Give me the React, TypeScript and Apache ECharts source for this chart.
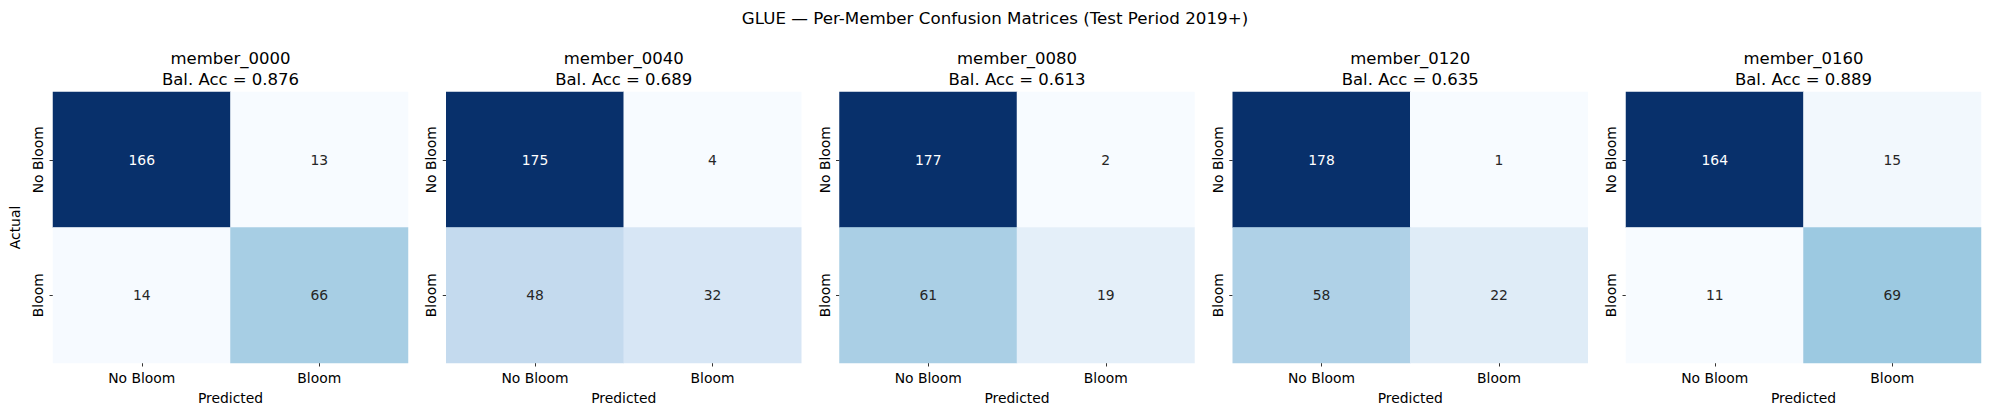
import React, { useEffect, useRef } from "react";
import * as echarts from "echarts";

const suptitle = "GLUE — Per-Member Confusion Matrices (Test Period 2019+)";
const members = ["member_0000", "member_0040", "member_0080", "member_0120", "member_0160"];
const balAcc = [0.876, 0.689, 0.613, 0.635, 0.889];
const classLabels = ["No Bloom", "Bloom"];
// confusion matrix cells: [actual][predicted]
const trueNeg = [166, 175, 177, 178, 164];
const falsePos = [13, 4, 2, 1, 15];
const falseNeg = [14, 48, 61, 58, 11];
const truePos = [66, 32, 19, 22, 69];

const blues = [
  "#f7fbff", "#deebf7", "#c6dbef", "#9ecae1", "#6baed6",
  "#4292c6", "#2171b5", "#08519c", "#08306b",
];

const FONT = "DejaVu Sans";

export default function App() {
  const ref = useRef<HTMLDivElement>(null);
  useEffect(() => {
    if (!ref.current) return;
    const chart = echarts.init(ref.current, undefined, { renderer: "svg" });
    const n = members.length;
    const left0 = 53;
    const step = 393.25;
    const gw = 355;
    const gtop = 92;
    const gh = 271;

    const grids: any[] = [];
    const xAxes: any[] = [];
    const yAxes: any[] = [];
    const series: any[] = [];
    const visualMaps: any[] = [];
    const titles: any[] = [
      {
        text: suptitle,
        left: 995,
        top: 8,
        padding: 0,
        textAlign: "center",
        textStyle: { fontFamily: FONT, fontSize: 16.7, fontWeight: "normal", color: "#000", lineHeight: 20 },
      },
    ];

    for (let i = 0; i < n; i++) {
      const left = left0 + i * step;
      grids.push({ left, top: gtop, width: gw, height: gh, containLabel: false });
      xAxes.push({
        type: "category",
        gridIndex: i,
        data: classLabels,
        name: "Predicted",
        nameLocation: "middle",
        nameGap: 28,
        nameTextStyle: { fontFamily: FONT, fontSize: 13.9, color: "#000" },
        axisLine: { show: false },
        axisTick: { show: true, alignWithLabel: true, length: 3.5, lineStyle: { color: "#000", width: 0.8 } },
        axisLabel: { fontFamily: FONT, fontSize: 13.9, color: "#000", margin: 8 },
        splitLine: { show: false },
      });
      yAxes.push({
        type: "category",
        gridIndex: i,
        data: classLabels,
        inverse: true,
        name: i === 0 ? "Actual" : "",
        nameLocation: "middle",
        nameGap: 31,
        nameRotate: 90,
        nameTextStyle: { fontFamily: FONT, fontSize: 13.9, color: "#000" },
        axisLine: { show: false },
        axisTick: { show: true, alignWithLabel: true, length: 3.5, lineStyle: { color: "#000", width: 0.8 } },
        axisLabel: { fontFamily: FONT, fontSize: 13.9, color: "#000", rotate: 90, margin: 8 },
        splitLine: { show: false },
      });
      const cells = [
        [0, 0, trueNeg[i]],
        [1, 0, falsePos[i]],
        [0, 1, falseNeg[i]],
        [1, 1, truePos[i]],
      ];
      const vals = cells.map((c) => c[2]);
      const vmin = Math.min(...vals);
      const vmax = Math.max(...vals);
      visualMaps.push({
        type: "continuous",
        show: false,
        seriesIndex: i,
        dimension: 2,
        min: vmin,
        max: vmax,
        inRange: { color: blues },
      });
      series.push({
        type: "heatmap",
        xAxisIndex: i,
        yAxisIndex: i,
        data: cells.map((c) => {
          const norm = (c[2] - vmin) / (vmax - vmin);
          return {
            value: c,
            label: { color: norm > 0.47 ? "#ffffff" : "#262626" },
          };
        }),
        label: {
          show: true,
          fontFamily: FONT,
          fontSize: 13.9,
          formatter: (p: any) => String(p.value[2]),
        },
        itemStyle: { borderWidth: 0 },
        emphasis: { disabled: true },
      });
      titles.push({
        text: `${members[i]}\nBal. Acc = ${balAcc[i].toFixed(3)}`,
        left: left + gw / 2,
        top: 47.5,
        padding: 0,
        textAlign: "center",
        textStyle: { fontFamily: FONT, fontSize: 16.5, fontWeight: "normal", color: "#000", lineHeight: 21 },
      });
    }

    chart.setOption({
      animation: false,
      backgroundColor: "#ffffff",
      title: titles,
      grid: grids,
      xAxis: xAxes,
      yAxis: yAxes,
      visualMap: visualMaps,
      series,
    });
    return () => chart.dispose();
  }, []);
  return (
    <div
      ref={ref}
      style={{ position: "fixed", left: 0, top: 0, width: 1990, height: 416, background: "#fff" }}
    />
  );
}
